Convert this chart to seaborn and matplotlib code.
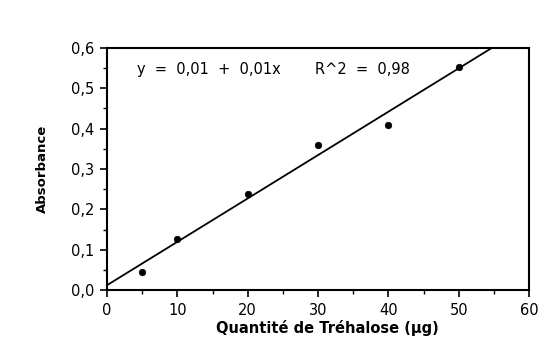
import matplotlib
matplotlib.use("Agg")
import matplotlib.pyplot as plt
import seaborn as sns
import numpy as np
import pandas as pd
from matplotlib.ticker import MultipleLocator, FuncFormatter

# Data
quantite = [5, 10, 20, 30, 40, 50]
absorbance = [0.045, 0.127, 0.238, 0.360, 0.410, 0.553]

# Fitted line (as drawn)
fit_intercept = 0.012
fit_slope = 0.01075
fit_x = [0, 55.8]

x_ticks = [0, 10, 20, 30, 40, 50, 60]
y_ticks = [0.0, 0.1, 0.2, 0.3, 0.4, 0.5, 0.6]
equation_text = "y  =  0,01  +  0,01x"
r2_text = "R^2  =  0,98"

sns.set_style("ticks")
plt.rcParams['font.family'] = ['DejaVu Sans']

fig = plt.figure(figsize=(5.49, 3.5), dpi=100)
ax = fig.add_axes([0.195, 0.1714, 0.7686, 0.6915])

df = pd.DataFrame({"x": quantite, "y": absorbance})
sns.scatterplot(data=df, x="x", y="y", ax=ax, color="black", s=22,
                edgecolor="black", linewidth=0.5, zorder=3)

fit_df = pd.DataFrame({"x": fit_x,
                       "y": [fit_intercept + fit_slope * v for v in fit_x]})
sns.lineplot(data=fit_df, x="x", y="y", ax=ax, color="black", linewidth=1.3)

ax.set_xlim(0, 60)
ax.set_ylim(0, 0.6)
ax.set_xticks(x_ticks)
ax.set_yticks(y_ticks)
ax.xaxis.set_minor_locator(MultipleLocator(5))
ax.yaxis.set_minor_locator(MultipleLocator(0.05))
ax.yaxis.set_major_formatter(FuncFormatter(lambda v, p: f"{v:.1f}".replace(".", ",")))
ax.xaxis.set_major_formatter(FuncFormatter(lambda v, p: f"{int(round(v))}"))

ax.tick_params(axis="both", which="major", direction="out", length=5, width=1.2,
               labelsize=10.5, colors="black", pad=4)
ax.tick_params(axis="both", which="minor", direction="out", length=3, width=1.0,
               colors="black")

for s in ax.spines.values():
    s.set_linewidth(1.5)
    s.set_color("black")
    s.set_visible(True)

ax.set_xlabel("Quantité de Tréhalose (µg)", fontsize=10.5, fontweight="bold",
              color="black")
ax.xaxis.set_label_coords(0.522, -0.125)
ax.set_ylabel("Absorbance", fontsize=9.5, fontweight="bold", labelpad=16,
              color="black")

ax.text(4.27, 0.546, equation_text, fontsize=10.5, color="black", va="center",
        ha="left")
ax.text(29.6, 0.546, r2_text, fontsize=10.5, color="black", va="center",
        ha="left")

fig.savefig("out.png", dpi=100, facecolor="white")
